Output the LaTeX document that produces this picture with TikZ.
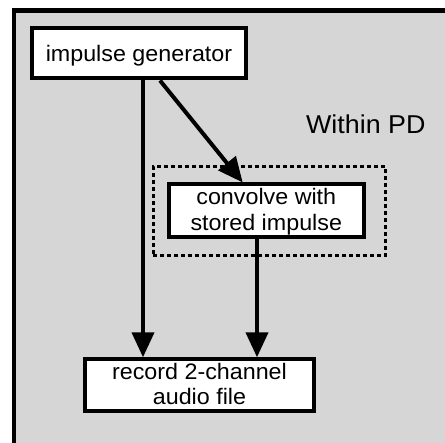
\documentclass[tikz,border=0pt]{standalone}
\usepackage{fontspec}
\setmainfont[FakeStretch=1.04]{Liberation Sans}
\usetikzlibrary{arrows.meta,calc}
\definecolor{bggray}{RGB}{214,214,214}
\newcommand{\twolines}[4]{\raisebox{-#3}[0pt][0pt]{\renewcommand{\arraystretch}{1}\fontsize{11.2}{#4}\selectfont\begin{tabular}[b]{@{}c@{}}#1\\#2\end{tabular}}}
\newcommand{\oneline}[2]{\raisebox{-#2}[0pt][0pt]{#1}}
\begin{document}
\begin{tikzpicture}[x=0.5pt,y=-0.5pt,
  boxnode/.style={draw=black, fill=white, line width=2pt, inner sep=0pt,
    font=\fontsize{11.2}{13}\selectfont},
  dashbox/.style={draw=black, line width=1.4pt, dash pattern=on 2pt off 1.5pt, inner sep=0pt},
  arr/.style={line width=2pt, -{Triangle[length=12.5pt,width=11pt]}},
  label/.style={font=\fontsize{12.9}{15}\selectfont, inner sep=0pt}]
\useasboundingbox (0,0) rectangle (445,443);
\begin{scope}
\clip (0,0) rectangle (445,443);
\fill[bggray] (14,10.5) rectangle (460,460);
\draw[line width=2.3pt] (14,460) -- (14,10.5) -- (460,10.5);
\end{scope}
\node[dashbox, minimum width=116.2pt, minimum height=44.3pt] (pd) at (269.3,210.9) {};
\node[boxnode, minimum width=107pt, minimum height=25pt] (ig) at (139,53.5) {\oneline{impulse generator}{4pt}};
\node[boxnode, minimum width=97.7pt, minimum height=26.4pt] (cv) at (266.3,210.9) {\twolines{convolve with}{stored impulse}{9.7pt}{13pt}};
\node[boxnode, minimum width=114.2pt, minimum height=26pt] (rec) at (199.5,385.3) {\twolines{record 2-channel}{audio file}{9.8pt}{12.85pt}};
\node[label, anchor=base] (within) at (365.8,133.3) {Within PD};
\coordinate (xa) at (143,0);
\coordinate (xb) at (160,0);
\coordinate (xc) at (242.7,0);
\coordinate (xd) at (257,0);
\draw[arr] (ig.south -| xa) -- (rec.north -| xa);
\draw[arr] (ig.south -| xb) -- (cv.north -| xc);
\draw[arr] (cv.south -| xd) -- (rec.north -| xd);
\end{tikzpicture}
\end{document}
